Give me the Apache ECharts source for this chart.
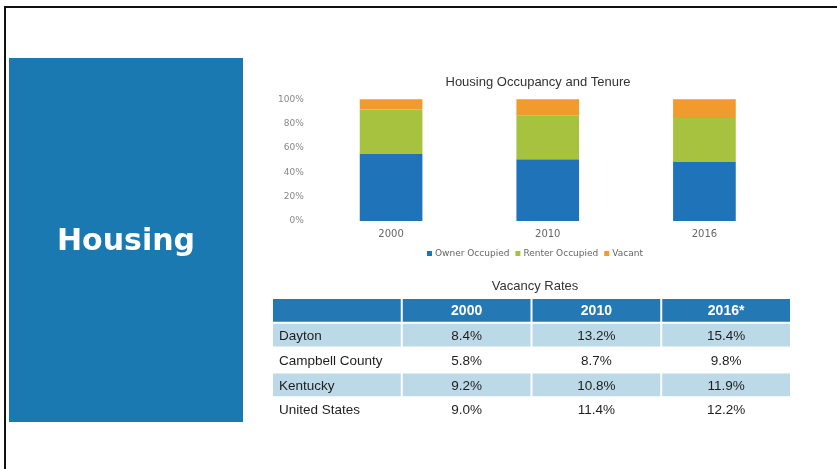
<!DOCTYPE html>
<html>
<head>
<meta charset="utf-8">
<script src="https://cdn.jsdelivr.net/npm/echarts@6/dist/echarts.min.js"></script>
<style>
html,body{margin:0;padding:0;background:#fff;}
#main{width:837px;height:469px;}
</style>
</head>
<body>
<div id="main"></div>
<script>
// ---- Chart data ----
const years = ['2000', '2010', '2016'];
const ownerOccupied = [55.5, 50.8, 48.5];
const renterOccupied = [36.1, 36.0, 36.1];
const vacant = [8.4, 13.2, 15.4];
const yTicks = [0, 20, 40, 60, 80, 100];

// ---- Table data ----
const tableHeader = ['', '2000', '2010', '2016*'];
const places = ['Dayton', 'Campbell County', 'Kentucky', 'United States'];
const rate2000 = ['8.4%', '5.8%', '9.2%', '9.0%'];
const rate2010 = ['13.2%', '8.7%', '10.8%', '11.4%'];
const rate2016 = ['15.4%', '9.8%', '11.9%', '12.2%'];

const rowNames = ['header'].concat(places);
const columns = [[''].concat(places), [tableHeader[1]].concat(rate2000), [tableHeader[2]].concat(rate2010), [tableHeader[3]].concat(rate2016)];
const cellData = [];
for (let c = 0; c < 4; c++) {
  for (let r = 0; r < rowNames.length; r++) {
    const txt = r === 0 ? tableHeader[c] : columns[c][r];
    cellData.push([c, r, txt]);
  }
}

const chart = echarts.init(document.getElementById('main'), null, {renderer: 'canvas'});
const axisFont = 'DejaVu Sans';
const tableFont = 'Liberation Sans';

const option = {
  backgroundColor: '#ffffff',
  animation: false,
  title: [
    {text: 'Housing Occupancy and Tenure', left: 533, top: 71, textAlign: 'center',
     textStyle: {fontFamily: tableFont, fontSize: 13, fontWeight: 'normal', color: '#333'}},
    {text: 'Vacancy Rates', left: 530, top: 275, textAlign: 'center',
     textStyle: {fontFamily: tableFont, fontSize: 13, fontWeight: 'normal', color: '#333'}}
  ],
  legend: {
    left: 422, top: 244, itemWidth: 5, itemHeight: 5, itemGap: 6,
    icon: 'rect',
    textStyle: {fontFamily: axisFont, fontSize: 9, color: '#666', padding: [0, 0, 0, -2]},
    data: ['Owner Occupied', 'Renter Occupied', 'Vacant']
  },
  grid: [
    {left: 312.75, right: 54.25, top: 99.3, bottom: 248},
    {left: 272, right: 46, top: 298, bottom: 47}
  ],
  xAxis: [
    {type: 'category', gridIndex: 0, data: years,
     axisLine: {show: false}, axisTick: {show: false},
     axisLabel: {fontFamily: axisFont, fontSize: 10, color: '#666', margin: 8}},
    {type: 'category', gridIndex: 1, data: tableHeader, show: false}
  ],
  yAxis: [
    {type: 'value', gridIndex: 0, min: yTicks[0], max: yTicks[yTicks.length - 1], interval: 20,
     splitLine: {show: false}, axisLine: {show: false}, axisTick: {show: false},
     axisLabel: {fontFamily: axisFont, fontSize: 9, color: '#888', margin: 9, formatter: '{value}%'}},
    {type: 'category', gridIndex: 1, data: rowNames, inverse: true, show: false}
  ],
  series: [
    {name: 'Owner Occupied', type: 'bar', stack: 'occ', data: ownerOccupied, barWidth: '40%',
     itemStyle: {color: '#1f74b9'}},
    {name: 'Renter Occupied', type: 'bar', stack: 'occ', data: renterOccupied, barWidth: '40%',
     itemStyle: {color: '#a6c23e'}},
    {name: 'Vacant', type: 'bar', stack: 'occ', data: vacant, barWidth: '40%',
     itemStyle: {color: '#f19a2e'}},
    {
      type: 'custom', xAxisIndex: 1, yAxisIndex: 1, data: cellData,
      renderItem: function (params, api) {
        const c = api.value(0), r = api.value(1);
        const txt = cellData[params.dataIndex][2];
        const center = api.coord([c, r]);
        const size = api.size([1, 1]);
        const x0 = center[0] - size[0] / 2, y0 = center[1] - size[1] / 2;
        const children = [];
        let fill = null;
        if (r === 0) fill = '#2479b4';
        else if (r % 2 === 1) fill = '#bcd9e8';
        if (fill) {
          children.push({type: 'rect', shape: {x: x0 + 1, y: y0 + 1, width: size[0] - 2, height: size[1] - 2},
            style: {fill: fill}});
        }
        const isLabel = c === 0;
        children.push({type: 'text', style: {
          text: txt,
          x: isLabel ? x0 + 7 : center[0],
          y: center[1] + 1,
          align: isLabel ? 'left' : 'center',
          verticalAlign: 'middle',
          fontFamily: tableFont,
          fontSize: r === 0 ? 14 : 13.5,
          fontWeight: r === 0 ? 'bold' : 'normal',
          fill: r === 0 ? '#ffffff' : '#1e1e1e'
        }});
        return {type: 'group', children: children};
      }
    }
  ],
  graphic: [
    {type: 'rect', left: 4, top: 6, shape: {width: 833, height: 2}, style: {fill: '#111'}, silent: true},
    {type: 'rect', left: 4, top: 6, shape: {width: 2, height: 463}, style: {fill: '#111'}, silent: true},
    {type: 'rect', left: 9, top: 58, shape: {width: 234, height: 364}, style: {fill: '#1b79b2'}, silent: true},
    {type: 'text', left: 57, top: 227, style: {text: 'Housing', fill: '#ffffff',
      font: 'bold 30px "DejaVu Sans"'}, silent: true}
  ]
};
chart.setOption(option);
</script>
</body>
</html>
